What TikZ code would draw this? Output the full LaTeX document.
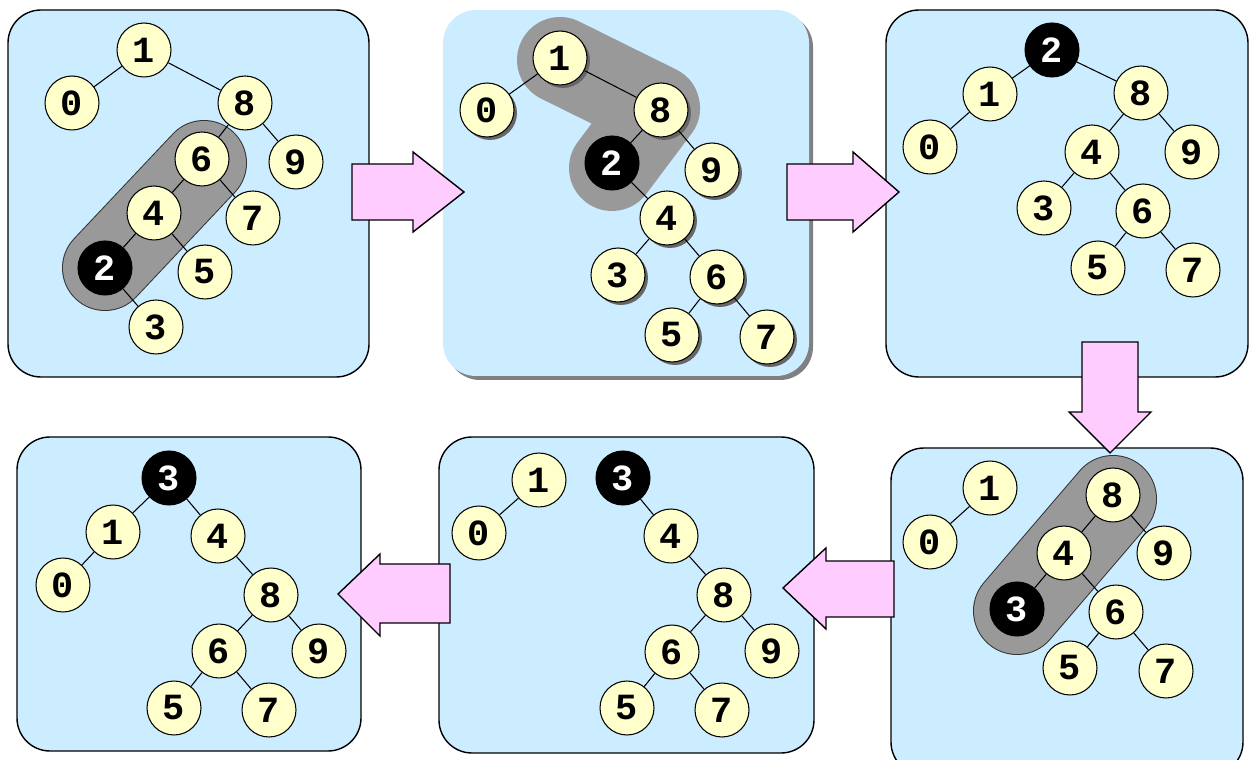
\documentclass[tikz,border=0pt]{standalone}
\usepackage{fontspec}
\setmonofont{Liberation Mono}
\usepackage{tikz}
\usetikzlibrary{shadows}
\definecolor{paneblue}{RGB}{204,236,255}
\definecolor{keyyellow}{RGB}{255,255,204}
\definecolor{pushpink}{RGB}{255,204,255}
\definecolor{splaygray}{RGB}{153,153,153}
\tikzset{%
  pane/.style = {draw,fill=paneblue,rounded corners=0.66cm,line width=0.8pt},
  k/.style = {circle,draw,fill=keyyellow,minimum size=1.08cm,inner sep=0pt,
        line width=0.6pt,font=\ttfamily\bfseries\fontsize{21}{21}\selectfont},
  kr/.style = {k,fill=black,text=white},
  ks/.style = {k,drop shadow={shadow xshift=0.06cm,shadow yshift=-0.06cm,
        opacity=1,fill=black!60}},
  e/.style = {line width=0.6pt},
  path/.style = {line cap=round,line join=round},
  push/.style = {draw,fill=pushpink,line width=0.8pt,line join=miter}
}

\begin{document}
\begin{tikzpicture}[x=0.02cm,y=-0.02cm]
    \clip (0,0) rectangle (1249,760);
    \useasboundingbox (0,0) rectangle (1249,760);

    % panels
    \draw[pane] (8,10) rectangle (369,377);
    \fill[black!50,rounded corners=0.66cm] (447,14) rectangle (813,380);
    \fill[paneblue,rounded corners=0.66cm] (443,10) rectangle (809,376);
    \draw[pane] (886,10) rectangle (1248,377);
    \draw[pane] (891,448) rectangle (1243,775);
    \draw[pane] (439,437) rectangle (814,753);
    \draw[pane] (17,437) rectangle (361,751);

    % arrows between panels
    \draw[push] (352,164) -- (413,164) -- (413,152) -- (464,192) -- (413,232)
        -- (413,220) -- (352,220) -- cycle;
    \draw[push] (787,164) -- (853,164) -- (853,152) -- (899,192) -- (853,232)
        -- (853,220) -- (787,220) -- cycle;
    \draw[push] (1082,342) -- (1138,342) -- (1138,412) -- (1151,412) -- (1110,453)
        -- (1069,412) -- (1082,412) -- cycle;
    \draw[push] (894,561) -- (826,561) -- (826,548) -- (783,588) -- (826,629)
        -- (826,617) -- (894,617) -- cycle;
    \draw[push] (450,564) -- (380,564) -- (380,554) -- (338,594) -- (380,636)
        -- (380,623) -- (450,623) -- cycle;

    % splay paths
    \draw[path,line width=1.72cm,black!80] (105,268) -- (204,163);
    \draw[path,line width=1.68cm,splaygray] (105,268) -- (204,163);
    \draw[path,line width=1.72cm,splaygray] (560,60) -- (657,108) -- (612,168);
    \draw[path,line width=1.76cm,black!80] (1017,611) -- (1113,499);
    \draw[path,line width=1.72cm,splaygray] (1017,611) -- (1113,499);

    % first tree
    \node[k] (a1) at (144,50) {1};
    \node[k] (a0) at (72,103) {0};
    \node[k] (a8) at (245,103) {8};
    \node[k] (a6) at (202,159) {6};
    \node[k] (a9) at (296,162) {9};
    \node[k] (a4) at (154,213) {4};
    \node[k] (a7) at (253,218) {7};
    \node[kr] (a2) at (105,268) {2};
    \node[k] (a5) at (205,272) {5};
    \node[k] (a3) at (156,327) {3};
    \draw[e] (a1) -- (a0);
    \draw[e] (a1) -- (a8);
    \draw[e] (a8) -- (a6);
    \draw[e] (a8) -- (a9);
    \draw[e] (a6) -- (a4);
    \draw[e] (a6) -- (a7);
    \draw[e] (a4) -- (a2);
    \draw[e] (a4) -- (a5);
    \draw[e] (a2) -- (a3);

    % second tree
    \node[ks] (b1) at (560,58) {1};
    \node[ks] (b0) at (487,110) {0};
    \node[ks] (b8) at (661,110) {8};
    \node[kr] (b2) at (612,163) {2};
    \node[ks] (b9) at (712,170) {9};
    \node[ks] (b4) at (667,218) {4};
    \node[ks] (b3) at (618,275) {3};
    \node[ks] (b6) at (717,277) {6};
    \node[ks] (b5) at (672,335) {5};
    \node[ks] (b7) at (767,337) {7};
    \draw[e] (b1) -- (b0);
    \draw[e] (b1) -- (b8);
    \draw[e] (b8) -- (b2);
    \draw[e] (b8) -- (b9);
    \draw[e] (b2) -- (b4);
    \draw[e] (b4) -- (b3);
    \draw[e] (b4) -- (b6);
    \draw[e] (b6) -- (b5);
    \draw[e] (b6) -- (b7);

    % third tree
    \node[kr] (c2) at (1052,50) {2};
    \node[k] (c1) at (990,94) {1};
    \node[k] (c8) at (1141,93) {8};
    \node[k] (c0) at (930,147) {0};
    \node[k] (c4) at (1092,152) {4};
    \node[k] (c9) at (1192,152) {9};
    \node[k] (c3) at (1044,208) {3};
    \node[k] (c6) at (1143,211) {6};
    \node[k] (c5) at (1098,268) {5};
    \node[k] (c7) at (1193,270) {7};
    \draw[e] (c2) -- (c1);
    \draw[e] (c2) -- (c8);
    \draw[e] (c1) -- (c0);
    \draw[e] (c8) -- (c4);
    \draw[e] (c8) -- (c9);
    \draw[e] (c4) -- (c3);
    \draw[e] (c4) -- (c6);
    \draw[e] (c6) -- (c5);
    \draw[e] (c6) -- (c7);

    % fourth tree
    \node[k] (d1) at (990,488) {1};
    \node[k] (d0) at (930,542) {0};
    \node[k] (d8) at (1113,495) {8};
    \node[k] (d4) at (1064,553) {4};
    \node[k] (d9) at (1164,553) {9};
    \node[kr] (d3) at (1017,609) {3};
    \node[k] (d6) at (1116,612) {6};
    \node[k] (d5) at (1070,668) {5};
    \node[k] (d7) at (1166,671) {7};
    \draw[e] (d1) -- (d0);
    \draw[e] (d8) -- (d4);
    \draw[e] (d8) -- (d9);
    \draw[e] (d4) -- (d3);
    \draw[e] (d4) -- (d6);
    \draw[e] (d6) -- (d5);
    \draw[e] (d6) -- (d7);

    % fifth tree
    \node[k] (e1) at (539,480) {1};
    \node[k] (e0) at (479,533) {0};
    \node[kr] (e3) at (623,478) {3};
    \node[k] (e4) at (671,536) {4};
    \node[k] (e8) at (724,595) {8};
    \node[k] (e6) at (672,652) {6};
    \node[k] (e9) at (772,651) {9};
    \node[k] (e5) at (627,708) {5};
    \node[k] (e7) at (722,710) {7};
    \draw[e] (e1) -- (e0);
    \draw[e] (e3) -- (e4);
    \draw[e] (e4) -- (e8);
    \draw[e] (e8) -- (e6);
    \draw[e] (e8) -- (e9);
    \draw[e] (e6) -- (e5);
    \draw[e] (e6) -- (e7);

    % sixth tree
    \node[kr] (f3) at (169,478) {3};
    \node[k] (f1) at (113,532) {1};
    \node[k] (f4) at (218,536) {4};
    \node[k] (f0) at (63,585) {0};
    \node[k] (f8) at (271,595) {8};
    \node[k] (f6) at (219,651) {6};
    \node[k] (f9) at (319,651) {9};
    \node[k] (f5) at (174,708) {5};
    \node[k] (f7) at (269,710) {7};
    \draw[e] (f3) -- (f1);
    \draw[e] (f3) -- (f4);
    \draw[e] (f1) -- (f0);
    \draw[e] (f4) -- (f8);
    \draw[e] (f8) -- (f6);
    \draw[e] (f8) -- (f9);
    \draw[e] (f6) -- (f5);
    \draw[e] (f6) -- (f7);
\end{tikzpicture}
\end{document}
